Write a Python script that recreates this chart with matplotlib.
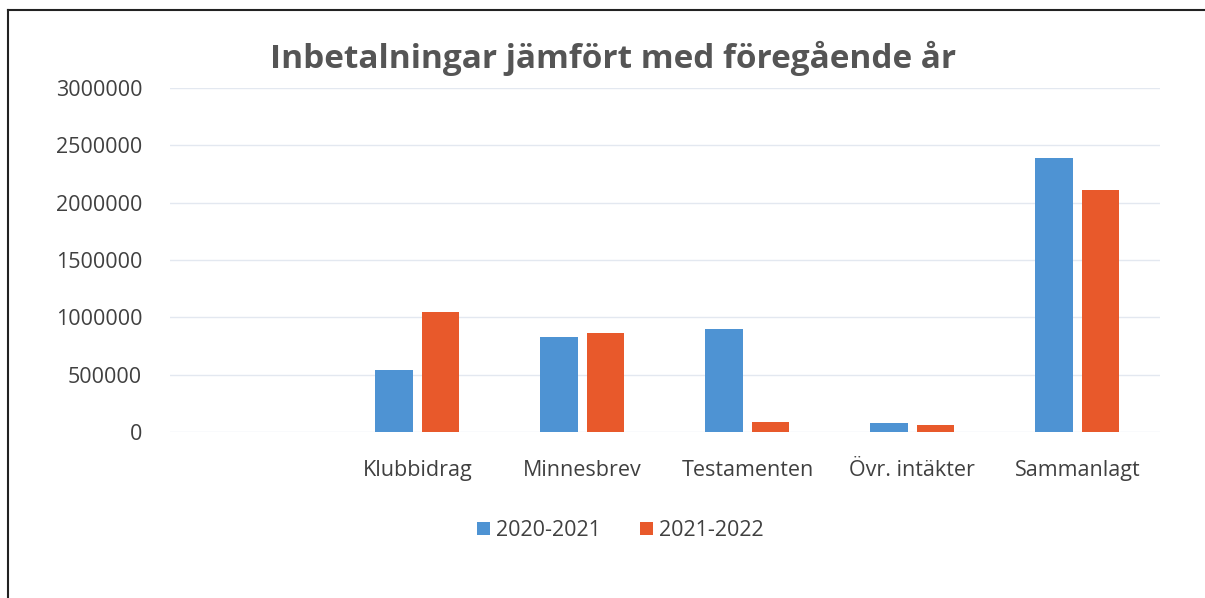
import numpy as np
from matplotlib import pyplot as plt
from matplotlib.lines import Line2D

# första kategorin är tom i originalet
categories = ['', 'Klubbidrag', 'Minnesbrev', 'Testamenten', 'Övr. intäkter', 'Sammanlagt']
series_2020 = [0, 540000, 830000, 900000, 76000, 2390000]
series_2021 = [0, 1050000, 865000, 84000, 58000, 2110000]
labels = ['2020-2021', '2021-2022']
yticks = [0, 500000, 1000000, 1500000, 2000000, 2500000, 3000000]

blue = '#4E93D3'
red = '#E8592B'
text_color = '#404040'

plt.rcParams['font.family'] = ['Open Sans', 'DejaVu Sans']

fig = plt.figure(figsize=(12.05, 5.98), dpi=100)
ax = fig.add_axes([0.141, 0.2776, 0.8216, 0.5753])

x = np.arange(len(categories))
w = 0.225
b1 = ax.bar(x - 0.142, series_2020, w, color=blue, label=labels[0])
b2 = ax.bar(x + 0.142, series_2021, w, color=red, label=labels[1])

ax.set_xlim(-0.5, len(categories) - 0.5)
ax.set_ylim(0, 3000000)
ax.set_yticks(yticks)
ax.set_yticklabels([str(v) for v in yticks])
ax.set_xticks(x)
ax.set_xticklabels(categories)
ax.tick_params(axis='y', length=0, pad=20, labelsize=15.5, labelcolor=text_color)
ax.tick_params(axis='x', length=0, pad=20, labelsize=15.5, labelcolor=text_color)

ax.grid(axis='y', color='#e3e8f0', linewidth=1)
ax.set_axisbelow(True)
for s in ax.spines.values():
    s.set_visible(False)

fig.text(0.509, 0.903, 'Inbetalningar jämfört med föregående år', ha='center', va='center',
         fontsize=24, fontweight='bold', color='#555555')

fig.legend(handles=[b1, b2], labels=labels, loc='center', bbox_to_anchor=(0.515, 0.113),
           ncol=2, frameon=False, fontsize=15.5, handlelength=0.6, handleheight=0.6,
           handletextpad=0.3, columnspacing=1.8, labelcolor=text_color)

# ram (bara överkant och vänsterkant syns i skanningen)
fig.add_artist(Line2D([0.007, 1.0], [0.983, 0.983], color='#222222', linewidth=1.5, transform=fig.transFigure))
fig.add_artist(Line2D([0.007, 0.007], [0.0, 0.983], color='#222222', linewidth=1.5, transform=fig.transFigure))

fig.savefig('out.png', dpi=100)
